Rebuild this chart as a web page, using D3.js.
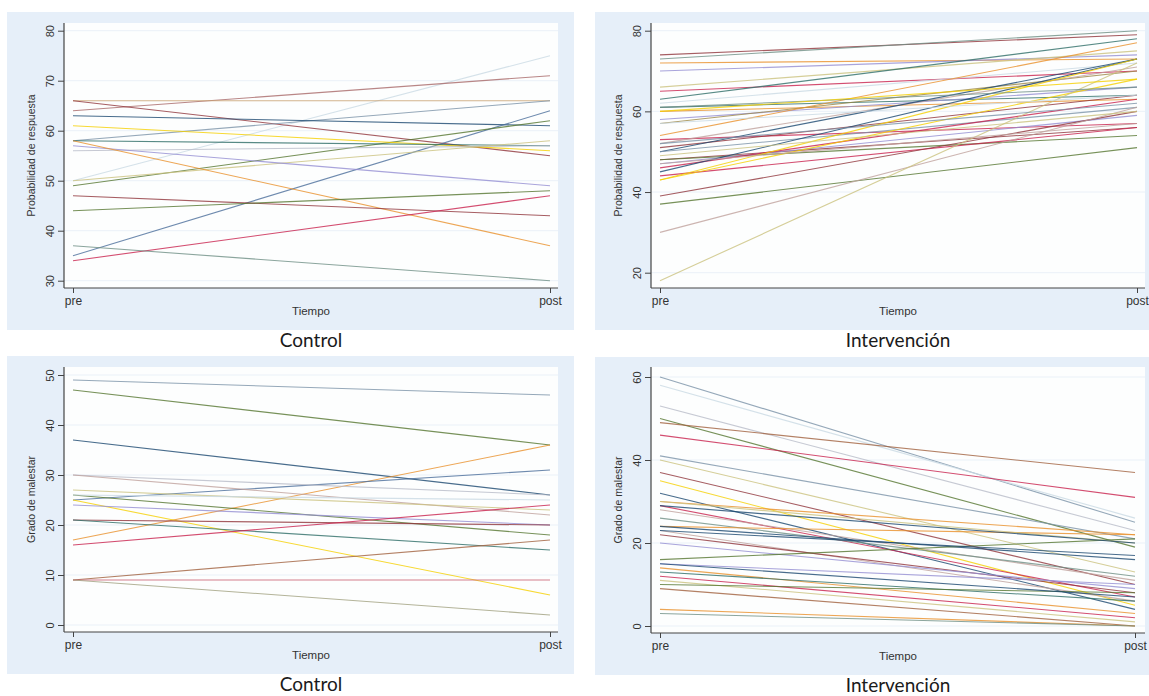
<!DOCTYPE html>
<html>
<head>
<meta charset="utf-8">
<script src="https://cdn.jsdelivr.net/npm/d3@7"></script>
<style>
  body { margin: 0; background: #fff; }
  svg { display: block; }
</style>
</head>
<body>
<script>
// time points on the x axis
const timeLabels = ["pre", "post"];

// Control - Probabilidad de respuesta
const ctrlProbPre  = [50, 64, 66, 66, 58, 63, 35, 49, 61, 58, 56, 50, 57, 58, 47, 44, 34, 37];
const ctrlProbPost = [75, 71, 66, 55, 66, 61, 64, 62, 56, 57, 57, 58, 49, 37, 43, 48, 47, 30];
const ctrlProbTicks = [30, 40, 50, 60, 70, 80];

// Intervención - Probabilidad de respuesta
const intProbPre  = [74, 73, 72, 70, 66, 65, 63, 62, 61, 60, 58, 57, 54, 53, 52, 51, 50, 50,
                     48, 48, 47, 46, 45, 44, 43, 43, 39, 37, 30, 18, 61, 57, 49, 52, 47, 60];
const intProbPost = [79, 80, 73, 74, 75, 70, 78, 72, 64, 63, 66, 70, 77, 57, 71, 64, 73, 61,
                     56, 54, 59, 63, 73, 56, 68, 73, 60, 51, 61, 72, 66, 64, 60, 62, 57, 68];
const intProbTicks = [20, 40, 60, 80];

// Control - Grado de malestar
const ctrlMalPre  = [49, 47, 37, 17, 25, 30, 30, 27, 25, 26, 24, 21, 21, 16, 9, 9, 9, 26];
const ctrlMalPost = [46, 36, 26, 36, 31, 26, 22, 23, 6, 18, 20, 20, 15, 24, 17, 9, 2, 25];
const ctrlMalTicks = [0, 10, 20, 30, 40, 50];

// Intervención - Grado de malestar
const intMalPre  = [60, 58, 53, 50, 49, 46, 41, 40, 37, 35, 32, 30, 29, 28, 26, 24, 24, 23,
                    22, 20, 16, 15, 14, 13, 12, 11, 10, 9, 4, 3, 15, 23, 30, 29];
const intMalPost = [25, 26, 23, 19, 37, 31, 21, 13, 10, 5, 4, 22, 7, 11, 12, 22, 16, 6,
                    8, 9, 21, 10, 3, 6, 2, 1, 8, 0, 0, 0, 7, 17, 20, 20];
const intMalTicks = [0, 20, 40, 60];

// stata s2color-like palette
const palette = {
  navy: "#1a476f", maroon: "#90353b", forest: "#55752f", dkorange: "#e8902a",
  teal: "#6e8e84", cranberry: "#c8204c", lavender: "#938dd2", khaki: "#cac27e",
  sienna: "#a0603d", emidblue: "#7b92a8", emerald: "#2d6d66", brown: "#9c8847",
  erose: "#bfa19c", gold: "#f5d000", bluishgray: "#c9dae4", rose: "#a86868",
  tan: "#c8a070", steel: "#4a6d9a", pinkred: "#c86070", olive: "#a0a080", grey: "#b8bcc8"
};

const ctrlProbColor = ["bluishgray", "rose", "tan", "maroon", "emidblue", "navy", "steel", "forest", "gold",
  "emerald", "grey", "khaki", "lavender", "dkorange", "maroon", "forest", "cranberry", "teal"];
const intProbColor = ["maroon", "teal", "dkorange", "lavender", "khaki", "cranberry", "emerald", "bluishgray",
  "emerald", "dkorange", "lavender", "brown", "dkorange", "cranberry", "erose", "maroon", "navy", "emidblue",
  "maroon", "forest", "lavender", "cranberry", "navy", "cranberry", "gold", "gold", "maroon", "forest",
  "erose", "khaki", "teal", "bluishgray", "khaki", "emidblue", "erose", "gold"];
const ctrlMalColor = ["emidblue", "forest", "navy", "dkorange", "steel", "grey", "erose", "khaki", "gold",
  "forest", "lavender", "maroon", "emerald", "cranberry", "sienna", "pinkred", "olive", "bluishgray"];
const intMalColor = ["emidblue", "bluishgray", "grey", "forest", "sienna", "cranberry", "emidblue", "khaki",
  "maroon", "gold", "navy", "dkorange", "cranberry", "erose", "teal", "dkorange", "navy", "erose",
  "maroon", "lavender", "forest", "lavender", "dkorange", "emerald", "cranberry", "khaki", "forest",
  "sienna", "dkorange", "teal", "navy", "navy", "khaki", "navy"];

const W = 1149, H = 696;
const axisFont = "'Liberation Sans', Arial, Helvetica, sans-serif";
const svg = d3.select("body").append("svg").attr("width", W).attr("height", H);

const panels = [
  { pre: ctrlProbPre, post: ctrlProbPost, colors: ctrlProbColor, ticks: ctrlProbTicks, domain: [30, 80],
    title: "Probabilidad de respuesta", caption: "Control",
    bg: [7, 12, 567, 318], plot: [64, 558, 23, 288], xr: [73, 550], yr: [280.7, 30.7], ytx: 31 },
  { pre: intProbPre, post: intProbPost, colors: intProbColor, ticks: intProbTicks, domain: [20, 80],
    title: "Probabilidad de respuesta", caption: "Intervención",
    bg: [595, 12, 554, 318], plot: [651, 1145, 23, 288], xr: [660, 1137], yr: [272.7, 30.7], ytx: 618 },
  { pre: ctrlMalPre, post: ctrlMalPost, colors: ctrlMalColor, ticks: ctrlMalTicks, domain: [0, 50],
    title: "Grado de malestar", caption: "Control",
    bg: [7, 356, 567, 318], plot: [64, 558, 367, 632], xr: [73, 550], yr: [625, 375], ytx: 31 },
  { pre: intMalPre, post: intMalPost, colors: intMalColor, ticks: intMalTicks, domain: [0, 60],
    title: "Grado de malestar", caption: "Intervención",
    bg: [595, 357, 554, 318], plot: [651, 1145, 367, 633], xr: [660, 1135], yr: [626, 377], ytx: 618 }
];

panels.forEach(drawPanel);

function drawPanel(p) {
  const g = svg.append("g");
  const [bx, by, bw, bh] = p.bg;
  const [px0, px1, py0, py1] = p.plot;

  // graph region + plot region
  g.append("rect").attr("x", bx).attr("y", by).attr("width", bw).attr("height", bh).attr("fill", "#e6eff9");
  g.append("rect").attr("x", px0).attr("y", py0).attr("width", px1 - px0).attr("height", py1 - py0).attr("fill", "#fdfefe");

  const x = d3.scalePoint().domain(timeLabels).range(p.xr);
  const y = d3.scaleLinear().domain(p.domain).range(p.yr);

  // gridlines
  g.selectAll(".grid")
    .data(p.ticks)
    .enter()
    .append("line")
    .attr("x1", px0).attr("x2", px1)
    .attr("y1", (d) => y(d)).attr("y2", (d) => y(d))
    .attr("stroke", "#eaf1f8")
    .attr("stroke-width", 1);

  // subject lines
  const rows = p.pre.map((v, i) => ({ pre: v, post: p.post[i], c: palette[p.colors[i]] }));
  const line = d3.line().x((d) => x(d[0])).y((d) => y(d[1]));
  g.selectAll(".subj")
    .data(rows)
    .enter()
    .append("path")
    .attr("d", (d) => line([["pre", d.pre], ["post", d.post]]))
    .attr("fill", "none")
    .attr("stroke", (d) => d.c)
    .attr("stroke-width", 1.1)
    .attr("stroke-opacity", 0.8);

  // y axis
  const yAxis = d3.axisLeft(y).tickValues(p.ticks).tickSize(6).tickPadding(0);
  const ya = g.append("g").attr("transform", "translate(" + px0 + ",0)").call(yAxis);
  ya.select(".domain").remove();
  ya.selectAll(".tick line").attr("stroke", "#444");
  ya.selectAll("text")
    .attr("x", 0)
    .attr("y", -10)
    .attr("dy", 0)
    .attr("transform", "rotate(-90)")
    .style("text-anchor", "middle")
    .style("font-family", axisFont)
    .style("font-size", "11px")
    .attr("fill", "#333");

  // x axis
  const xAxis = d3.axisBottom(x).tickSize(5).tickPadding(3);
  const xa = g.append("g").attr("transform", "translate(0," + py1 + ")").call(xAxis);
  xa.select(".domain").remove();
  xa.selectAll(".tick line").attr("stroke", "#444");
  xa.selectAll("text")
    .style("font-family", axisFont)
    .style("font-size", "12px")
    .attr("fill", "#333");

  // axis lines spanning the plot region
  g.append("line").attr("x1", px0).attr("x2", px0).attr("y1", py0).attr("y2", py1)
    .attr("stroke", "#444").attr("stroke-width", 1.2);
  g.append("line").attr("x1", px0).attr("x2", px1).attr("y1", py1).attr("y2", py1)
    .attr("stroke", "#444").attr("stroke-width", 1.2);

  // axis titles
  const midY = (py0 + py1) / 2;
  g.append("text")
    .attr("transform", "translate(" + p.ytx + "," + midY + ") rotate(-90)")
    .attr("text-anchor", "middle")
    .attr("dy", "0.35em")
    .style("font-family", axisFont)
    .style("font-size", "10.5px")
    .attr("fill", "#333")
    .text(p.title);
  g.append("text")
    .attr("x", (px0 + px1) / 2)
    .attr("y", py1 + 27)
    .attr("text-anchor", "middle")
    .style("font-family", axisFont)
    .style("font-size", "11.5px")
    .attr("fill", "#333")
    .text("Tiempo");

  // caption under the panel
  svg.append("text")
    .attr("x", (px0 + px1) / 2)
    .attr("y", by + bh + 17)
    .attr("text-anchor", "middle")
    .style("font-family", "Lato, 'Open Sans', sans-serif")
    .style("font-size", "19px")
    .attr("fill", "#1a1a1a")
    .text(p.caption);
}
</script>
</body>
</html>
